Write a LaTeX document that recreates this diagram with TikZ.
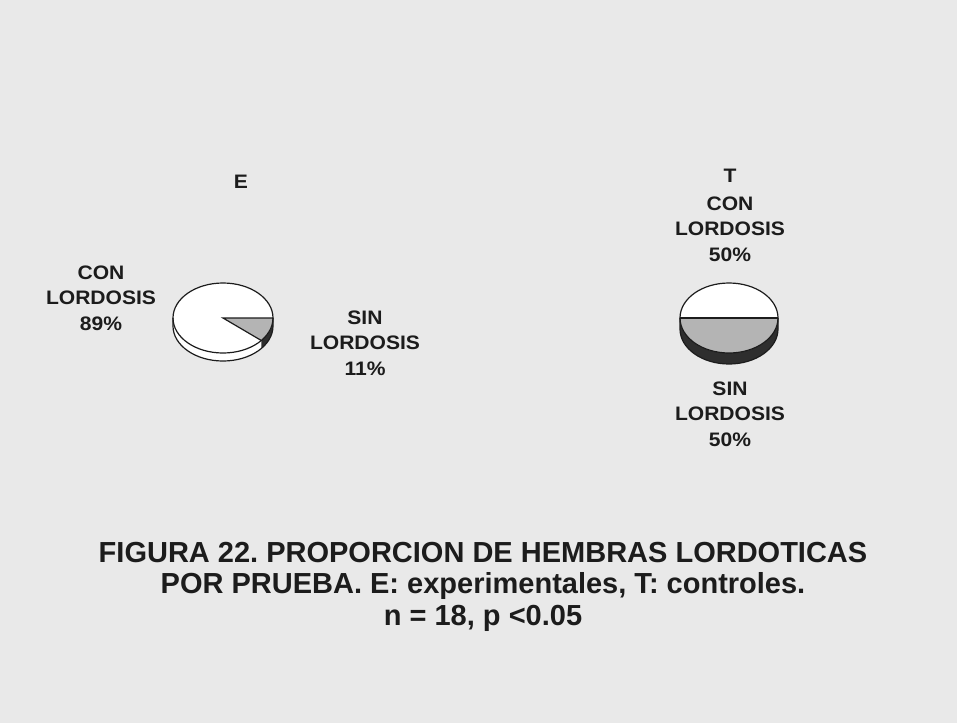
\documentclass[tikz,border=0pt]{standalone}
\usepackage{fontspec}
\usetikzlibrary{calc}
\setmainfont{Liberation Sans}
\newfontfamily\labfont[FakeStretch=1.08]{Liberation Sans}
\frenchspacing
\begin{document}
\begin{tikzpicture}[x=1pt,y=-1pt,
  lab/.style={font=\labfont\bfseries\fontsize{19.5}{25.5}\selectfont, align=center, text=ink, inner sep=0pt},
  captext/.style={font=\bfseries\fontsize{29}{33}\selectfont, text=ink, inner sep=0pt},
  rim/.style={draw=ink, line width=1.2pt}]
\definecolor{ink}{HTML}{1C1C1C}
\definecolor{bg}{HTML}{E9E9E9}
\definecolor{slice}{HTML}{B4B4B4}
\definecolor{side}{HTML}{2E2E2E}
\fill[bg] (0,0) rectangle (957,723);
\useasboundingbox (0,0) rectangle (957,723);

% ---- Pie E ----
\coordinate (ce) at (223,318);
\coordinate (ea) at (273,318);
\coordinate (eb) at ($(ce)+(40:50 and 35)$);
\fill[white] (173,318) -- (173,326) arc[start angle=180, end angle=0, x radius=50, y radius=35] -- (273,318) -- cycle;
\fill[side] (273,318) -- (273,326) arc[start angle=0, end angle=40, x radius=50, y radius=35]
  -- ++(0,-8) arc[start angle=40, end angle=0, x radius=50, y radius=35] -- cycle;
\fill[white] (ce) ellipse[x radius=50, y radius=35];
\fill[slice] (ce) -- (273,318) arc[start angle=0, end angle=40, x radius=50, y radius=35] -- cycle;
\draw[rim] (173,318) -- (173,326) arc[start angle=180, end angle=0, x radius=50, y radius=35] -- (273,318);
\draw[rim] (ce) ellipse[x radius=50, y radius=35];
\draw[rim] (ea) -- (ce) -- (eb);

% ---- Pie T ----
\coordinate (ct) at (729,318);
\fill[side] (680,318) -- (680,329) arc[start angle=180, end angle=0, x radius=49, y radius=35] -- (778,318) -- cycle;
\fill[white] (ct) ellipse[x radius=49, y radius=35];
\fill[slice] (680,318) arc[start angle=180, end angle=0, x radius=49, y radius=35] -- cycle;
\draw[rim] (680,318) -- (680,329) arc[start angle=180, end angle=0, x radius=49, y radius=35] -- (778,318);
\draw[rim] (ct) ellipse[x radius=49, y radius=35];
\draw[rim] (680,318) -- (778,318);

% ---- Labels ----
\node[lab] (tE) at (241,182) {E};
\node[lab] (tT) at (730,176) {T};
\node[lab] (conE) at (101,298) {CON\\LORDOSIS\\89\%};
\node[lab] (sinE) at (365,343) {SIN\\LORDOSIS\\11\%};
\node[lab] (conT) at (730,229) {CON\\LORDOSIS\\50\%};
\node[lab] (sinT) at (730,414) {SIN\\LORDOSIS\\50\%};

% ---- Caption ----
\node[captext] (c1) at (483,553) {FIGURA 22. PROPORCION DE HEMBRAS LORDOTICAS};
\node[captext] (c2) at (483,586) {POR PRUEBA. E: experimentales, T: controles.};
\node[captext] (c3) at (483,618) {n = 18, p <0.05};
\end{tikzpicture}
\end{document}
